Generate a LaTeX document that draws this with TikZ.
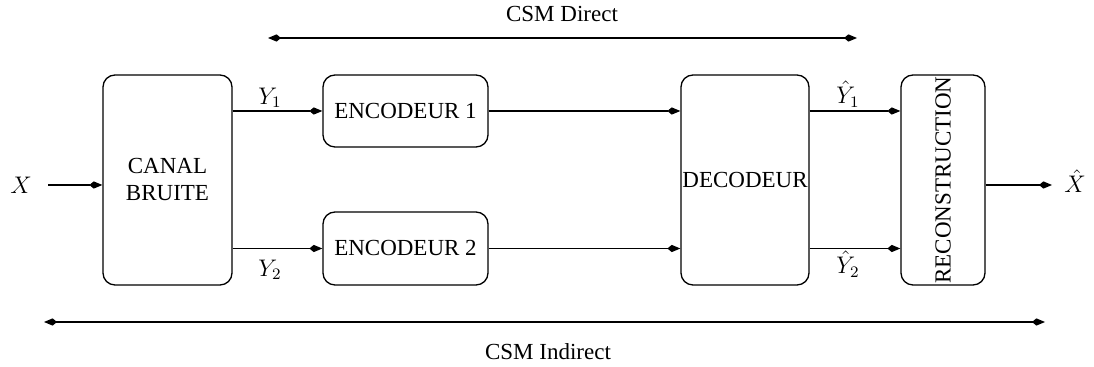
\documentclass[tikz,border=0pt]{standalone}
\usepackage{fontspec}
\setmainfont{Liberation Serif}
\usetikzlibrary{arrows.meta}
\begin{document}
\begin{tikzpicture}[x=0.5pt,y=-0.5pt,
  font=\fontsize{11.5}{13.5}\selectfont,
  tip/.tip={Kite[length=6.5pt,width=3.6pt,inset=2.2pt]},
  blk/.style={draw,line width=0.65pt,rounded corners=6pt,align=center,inner sep=0pt},
  conn/.style={line width=0.65pt,-tip},
  dbl/.style={line width=0.65pt,tip-tip}]
\useasboundingbox (0,0) rectangle (1094,367);
\node[blk,minimum width=64.5pt,minimum height=105pt] (canal) at (167.5,180) {CANAL\\BRUITE};
\node[blk,minimum width=82.5pt,minimum height=36pt] (enc1) at (405.5,111) {ENCODEUR 1};
\node[blk,minimum width=82.5pt,minimum height=36.5pt] (enc2) at (405.5,248.5) {ENCODEUR 2};
\node[blk,minimum width=64pt,minimum height=105pt] (dec) at (745,180) {DECODEUR};
\node[blk,minimum width=42pt,minimum height=105pt] (rec) at (943,180) {};
\node[rotate=90,inner sep=0pt] (rectext) at (rec.center) {RECONSTRUCTION};
\node (x) at (21,185) {$X$};
\node (xh) at (1075,181) {$\hat{X}$};
\coordinate (xs) at (48,185);
\coordinate (xe) at (1052,185);
\draw[conn] (xs) -- (canal.west |- xs);
\draw[conn] (rec.east |- xe) -- (xe);
\draw[conn] (canal.east |- enc1.west) -- (enc1.west);
\draw[conn] (canal.east |- enc2.west) -- (enc2.west);
\draw[conn] (enc1.east) -- (dec.west |- enc1.east);
\draw[conn] (enc2.east) -- (dec.west |- enc2.east);
\draw[conn] (dec.east |- enc1.east) -- (rec.west |- enc1.east);
\draw[conn] (dec.east |- enc2.east) -- (rec.west |- enc2.east);
\node (y1) at (270,98) {$Y_1$};
\node (y2) at (270,270) {$Y_2$};
\node (yh1) at (848,94) {$\hat{Y}_1$};
\node (yh2) at (848,264) {$\hat{Y}_2$};
\coordinate (d1) at (268,38);
\coordinate (d2) at (857,38);
\draw[dbl] (d1) -- (d2);
\node (dl) at (562,14) {CSM Direct};
\coordinate (i1) at (44,322);
\coordinate (i2) at (1045,322);
\draw[dbl] (i1) -- (i2);
\node (il) at (548,352) {CSM Indirect};
\end{tikzpicture}
\end{document}
